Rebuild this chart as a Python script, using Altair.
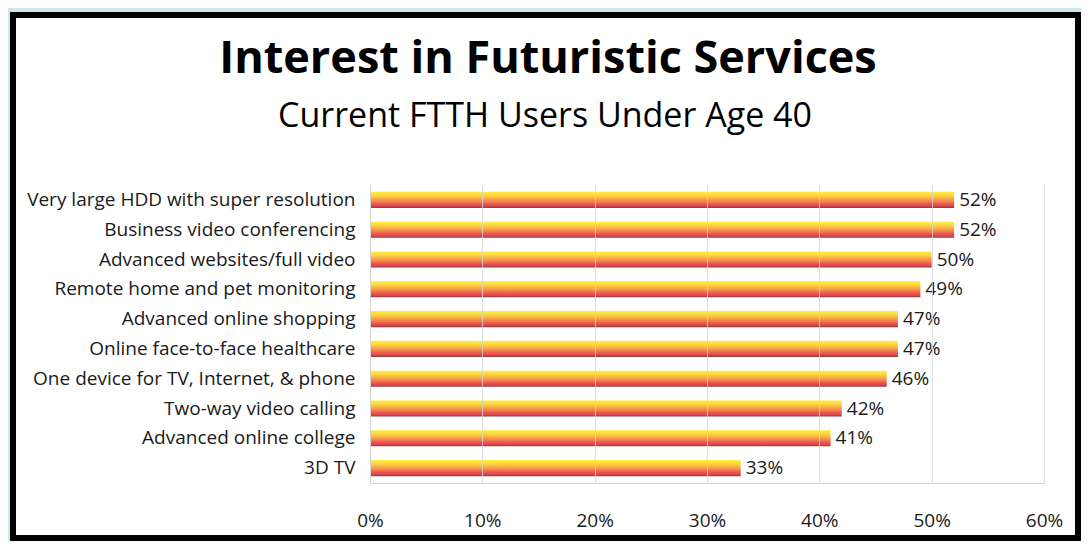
import altair as alt
import pandas as pd

categories = [
    "Very large HDD with super resolution",
    "Business video conferencing",
    "Advanced websites/full video",
    "Remote home and pet monitoring",
    "Advanced online shopping",
    "Online face-to-face healthcare",
    "One device for TV, Internet, & phone",
    "Two-way video calling",
    "Advanced online college",
    "3D TV",
]
values = [0.52, 0.52, 0.50, 0.49, 0.47, 0.47, 0.46, 0.42, 0.41, 0.33]
tick_values = [0, 0.1, 0.2, 0.3, 0.4, 0.5, 0.6]
title_text = "Interest in Futuristic Services"
subtitle_text = "Current FTTH Users Under Age 40"

df = pd.DataFrame({"service": categories, "share": values})

FONT = "Open Sans"
W, H = 674, 298
PAD = {"left": 362, "top": 177, "right": 37, "bottom": 58}
one = pd.DataFrame({"a": [0]})

frame = alt.Chart(one).mark_rect(
    fill="white", stroke="black", strokeWidth=6
).encode(
    x=alt.value(-357), x2=alt.value(708),
    y=alt.value(-170), y2=alt.value(353),
)

title = alt.Chart(one).mark_text(
    text=title_text, font=FONT, fontSize=45, fontWeight="bold",
    color="black", align="center", baseline="alphabetic",
).encode(x=alt.value(178), y=alt.value(-112))

subtitle = alt.Chart(one).mark_text(
    text=subtitle_text, font=FONT, fontSize=34, color="black",
    align="center", baseline="alphabetic",
).encode(x=alt.value(175), y=alt.value(-58))

grad = alt.Gradient(
    gradient="linear",
    stops=[
        alt.GradientStop(color="#ffee3c", offset=0.0),
        alt.GradientStop(color="#fdd840", offset=0.22),
        alt.GradientStop(color="#f9ad47", offset=0.42),
        alt.GradientStop(color="#f3834d", offset=0.6),
        alt.GradientStop(color="#ec5552", offset=0.76),
        alt.GradientStop(color="#df474b", offset=0.88),
        alt.GradientStop(color="#8e3b3b", offset=1.0),
    ],
    x1=0, x2=0, y1=0, y2=1,
)

y_enc = alt.Y(
    "service:N", sort=categories, title=None,
    scale=alt.Scale(paddingInner=0.46, paddingOuter=0.23),
    axis=alt.Axis(labelFont=FONT, labelFontSize=19, labelColor="#1a1a1a",
                  labelPadding=15, ticks=False, domainColor="#d4d4d4",
                  labelLimit=400, zindex=1),
)
x_enc = alt.X(
    "share:Q", title=None,
    scale=alt.Scale(domain=[0, 0.6], nice=False),
    axis=alt.Axis(values=tick_values, format=".0%", labelFont=FONT,
                  labelFontSize=19, labelColor="#1a1a1a", labelPadding=28,
                  labelFlush=False, labelOverlap=False,
                  ticks=False, domainColor="#d4d4d4", gridColor="#d4d4d4",
                  gridOpacity=0.8, zindex=1),
)

bars = alt.Chart(df).mark_bar(color=grad).encode(x=x_enc, y=y_enc)
labels = alt.Chart(df).mark_text(
    align="left", baseline="middle", dx=5, font=FONT, fontSize=19, color="#1a1a1a"
).encode(
    x="share:Q",
    y=alt.Y("service:N", sort=categories),
    text=alt.Text("share:Q", format=".0%"),
)

chart = alt.layer(frame, title, subtitle, bars, labels).properties(
    width=W, height=H,
    padding=PAD,
    autosize=alt.AutoSizeParams(type="none"),
    background="#d3e4ec",
).configure_view(stroke=None)

chart.save("out.html", embed_options={"renderer": "svg", "actions": False})
